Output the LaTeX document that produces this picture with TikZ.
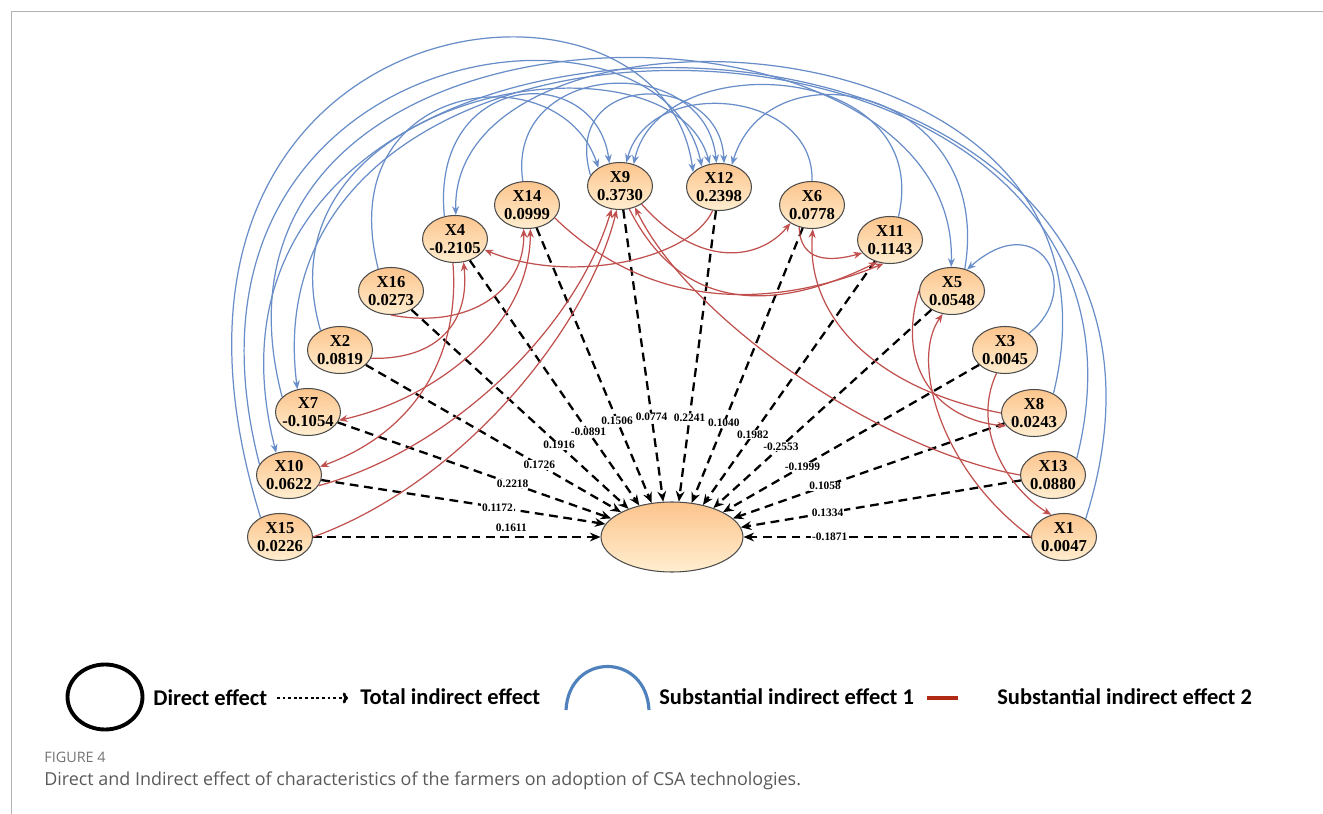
\documentclass[tikz,border=0pt]{standalone}
\usepackage{fontspec}
\setmainfont{Liberation Serif}
\newfontfamily\legendfont{Carlito}
\newfontfamily\captionfont{Open Sans}
\usetikzlibrary{shapes.geometric,arrows.meta}

\definecolor{pathblue}{RGB}{104,141,200}
\definecolor{pathred}{RGB}{192,80,77}
\definecolor{legblue}{RGB}{79,129,189}
\definecolor{legred}{RGB}{176,42,22}
\definecolor{factortop}{RGB}{252,196,140}
\definecolor{factorbottom}{RGB}{255,238,208}

\begin{document}
\begin{tikzpicture}[x=0.02cm, y=-0.02cm,
    >={Stealth[length=5pt,width=4pt]},
    factor/.style={ellipse,draw=black!70,line width=0.6pt,top color=factortop,bottom color=factorbottom,
      minimum width=1.3cm,minimum height=0.94cm,inner xsep=-5pt,inner ysep=-3pt,align=center,
      font=\fontsize{9.5}{10.5}\selectfont\bfseries},
    outcome/.style={ellipse,draw=black!70,line width=0.6pt,top color=factortop,bottom color=factorbottom,
      minimum width=2.84cm,minimum height=1.4cm},
    direct/.style={line width=1.3pt,dash pattern=on 5pt off 3.2pt,-{Stealth[length=6pt,width=5pt]}},
    elabel/.style={font=\fontsize{6.5}{7}\selectfont\bfseries,fill=white,inner sep=0.4pt},
    viaone/.style={pathblue,line width=0.7pt,->},
    viatwo/.style={pathred,line width=0.7pt,->},
    legtext/.style={anchor=west,inner sep=0pt,font=\legendfont\fontsize{12.8}{14}\selectfont\bfseries}
    ]

    \useasboundingbox (0,0) rectangle (1323,814);
    \draw[black!30,line width=0.5pt] (11,814) -- (11,11) -- (1323,11);

    % factors and adoption
    \foreach \n/\v/\px/\py in {9/0.3730/620/186, 12/0.2398/719/187, 14/0.0999/527/205, 6/0.0778/812/205,
        4/-0.2105/455/239, 11/0.1143/890/240, 16/0.0273/391/291, 5/0.0548/952/291,
        2/0.0819/340/350, 3/0.0045/1005/350, 7/-0.1054/308/412, 8/0.0243/1034/413,
        10/0.0622/289/475, 13/0.0880/1053/475, 15/0.0226/280/537, 1/0.0047/1064/537}
      \node (x\n) [factor] at (\px,\py) {X\n\\\v};

    \node (adopt) [outcome] at (672,537) {};

    % total indirect effects
    \foreach \n/\a/\w/\p/\s in {15/180/0.1611/0.69/5pt, 10/169/0.1172/0.62/0pt, 7/163/0.2218/0.64/0pt,
        2/154/0.1726/0.68/0pt, 16/147/0.1916/0.68/0pt, 4/136/-0.0891/0.70/0pt, 14/121/0.1506/0.70/0pt,
        9/104/0.0774/0.71/0pt, 12/79/0.2241/0.71/0pt, 6/60/0.1040/0.71/0pt, 11/46/0.1982/0.71/0pt,
        5/35/-0.2553/0.69/0pt, 3/26/-0.1999/0.69/0pt, 8/17/0.1058/0.66/0pt, 13/8/0.1334/0.69/0pt,
        1/0/-0.1871/0.70/0pt}
      \draw[direct] (x\n) -- (adopt.\a) node[elabel,pos=\p,yshift=\s] {\w};

    % substantial indirect effect 1
    \draw[viaone] (x15.135) .. controls (100,0) and (660,-70) .. (x12.150);
    \draw[viaone] (x10.160) .. controls (150,40) and (660,-30) .. (x12.130);
    \draw[viaone] (x2.135) .. controls (250,90) and (670,20) .. (x12.112);
    \draw[viaone] (x14.100) .. controls (505,60) and (705,50) .. (x12.96);
    \draw[viaone] (x9.160) .. controls (560,70) and (720,70) .. (x12.78);
    \draw[viaone] (x5.60) .. controls (995,90) and (770,40) .. (x12.60);
    \draw[viaone] (x16.120) .. controls (330,80) and (560,50) .. (x9.140);
    \draw[viaone] (x4.115) .. controls (430,70) and (595,60) .. (x9.115);
    \draw[viaone] (x6.90) .. controls (815,90) and (650,75) .. (x9.75);
    \draw[viaone] (x11.70) .. controls (935,60) and (660,45) .. (x9.58);
    \draw[viaone] (x7.150) .. controls (170,-30) and (960,-30) .. (x5.92);
    \draw[viaone] (x3.35) .. controls (1085,290) and (1040,205) .. (x5.55);
    \draw[viaone] (x8.45) .. controls (1150,0) and (450,-20) .. (x4.88);
    \draw[viaone] (x13.35) .. controls (1200,-30) and (240,-60) .. (x7.115);
    \draw[viaone] (x1.40) .. controls (1270,-60) and (140,-80) .. (x10.120);

    % substantial indirect effect 2
    \draw[viatwo] (x16.south) .. controls (470,330) and (525,290) .. (x14.262);
    \draw[viatwo] (x2.-15) .. controls (440,360) and (470,320) .. (x4.290);
    \draw[viatwo] (x4.265) .. controls (460,350) and (420,430) .. (x10.15);
    \draw[viatwo,<->] (x7.-15) .. controls (430,400) and (530,330) .. (x14.278);
    \draw[viatwo] (x10.-20) .. controls (450,450) and (575,330) .. (x9.250);
    \draw[viatwo] (x15.east) .. controls (470,480) and (590,320) .. (x9.262);
    \draw[viatwo] (x13.west) .. controls (880,450) and (690,320) .. (x9.305);
    \draw[viatwo] (x9.320) .. controls (700,270) and (760,260) .. (x6.220);
    \draw[viatwo] (x12.255) .. controls (690,260) and (570,285) .. (x4.-20);
    \draw[viatwo] (x9.292) .. controls (690,330) and (800,300) .. (x11.240);
    \draw[viatwo] (x14.-25) .. controls (650,310) and (770,310) .. (x11.255);
    \draw[viatwo] (x6.240) .. controls (800,262) and (830,262) .. (x11.205);
    \draw[viatwo] (x8.west) .. controls (880,390) and (805,320) .. (x6.272);
    \draw[viatwo] (x5.180) .. controls (895,370) and (940,420) .. (x8.205);
    \draw[viatwo] (x1.180) .. controls (940,470) and (910,360) .. (x5.248);
    \draw[viatwo] (x3.250) .. controls (970,430) and (1010,490) .. (x1.120);

    % legend
    \node (legdirect) [draw,line width=2.2pt,ellipse,minimum width=1.5cm,minimum height=1.3cm] at (105,697) {};
    \node (legdirecttext) [legtext] at (153,698) {Direct effect};
    \draw[line width=1.6pt,dash pattern=on 1.6pt off 1.6pt,-{To[length=3pt]}] (277,698) -- (348,698);
    \node (legtotal) [legtext] at (360,697) {Total indirect effect};
    \draw[legblue,line width=1.8pt] (566,710) .. controls (569,652) and (646,652) .. (649,710);
    \node (legone) [legtext] at (659,697) {Substantial indirect effect 1};
    \draw[legred,line width=2pt] (927,698) -- (958,698);
    \node (legtwo) [legtext] at (997,697) {Substantial indirect effect 2};

    % caption
    \node (figno) [anchor=west,inner sep=0pt,text=black!55,font=\captionfont\fontsize{8.2}{9}\selectfont] at (44,757) {FIGURE 4};
    \node (figcap) [anchor=west,inner sep=0pt,text=black!65,font=\captionfont\fontsize{10.2}{12}\selectfont] at (44,781)
      {Direct and Indirect effect of characteristics of the farmers on adoption of CSA technologies.};

  \end{tikzpicture}
\end{document}
